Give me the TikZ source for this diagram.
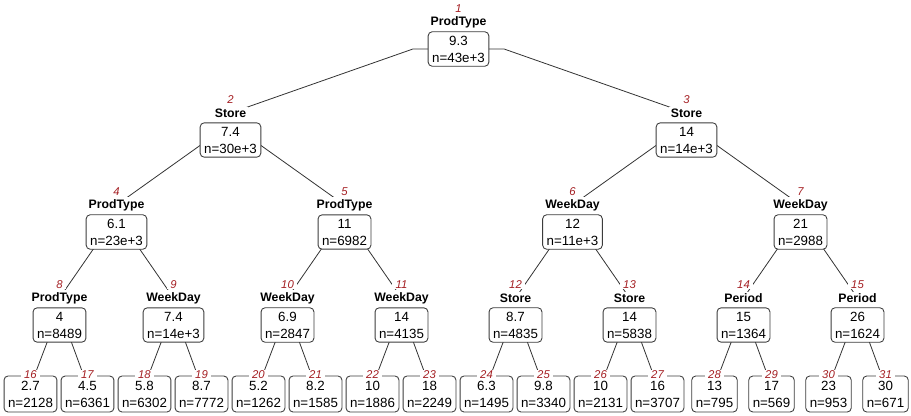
\documentclass[tikz,border=0pt]{standalone}
\usepackage{fontspec}
\setmainfont{Liberation Sans}
\usetikzlibrary{calc,backgrounds}
\definecolor{numred}{RGB}{165,32,36}
\definecolor{boxgray}{RGB}{60,60,60}
\tikzset{
    box/.style={draw=boxgray, fill=white, rounded corners=3pt, line width=.65pt, align=center,
        font=\fontsize{10}{12.75}\selectfont, inner xsep=3pt, inner ysep=3pt},
    leafbox/.style={box, inner ysep=3.6pt},
    split/.style={fill=white, font=\bfseries\fontsize{9.2}{10}\selectfont, inner sep=1.5pt},
    num/.style={fill=white, text=numred, font=\itshape\fontsize{8.5}{9}\selectfont, inner xsep=2.5pt, inner ysep=.3pt},
    branch/.style={draw=black!80, line width=.6pt}
}

\begin{document}
\begin{tikzpicture}[x=.75pt, y=-.75pt]
    \useasboundingbox (0,0) rectangle (911,415);
    % split nodes: number/x/y/variable/mean/count
    \foreach \i/\x/\y/\s/\v/\n in {1/458.5/49/ProdType/9.3/43e+3,
        2/230.5/140/Store/7.4/30e+3, 3/686.5/140/Store/14/14e+3,
        4/116.5/232/ProdType/6.1/23e+3, 5/344.5/232/ProdType/11/6982,
        6/572.5/232/WeekDay/12/11e+3, 7/800.5/232/WeekDay/21/2988,
        8/59.5/325/ProdType/4/8489, 9/173.5/325/WeekDay/7.4/14e+3,
        10/287.5/325/WeekDay/6.9/2847, 11/401.5/325/WeekDay/14/4135,
        12/515.5/325/Store/8.7/4835, 13/629.5/325/Store/14/5838,
        14/743.5/325/Period/15/1364, 15/857.5/325/Period/26/1624}{
        \node[box] (n\i) at (\x,\y) {\v\\n=\n};
        \node[split] (l\i) at (\x,\y-27) {\s};
        \node[num] (k\i) at (\x,\y-40) {\i};
    }
    % leaves 16..31
    \foreach \v/\n [count=\i from 16] in {2.7/2128, 4.5/6361, 5.8/6302, 8.7/7772,
        5.2/1262, 8.2/1585, 10/1886, 18/2249, 6.3/1495, 9.8/3340,
        10/2131, 16/3707, 13/795, 17/569, 23/953, 30/671}{
        \node[leafbox] (n\i) at ({30.5+57*(\i-16)},394) {\v\\n=\n};
        \node[num] (k\i) at ([yshift=1pt]n\i.north) {\i};
    }
    \begin{scope}[on background layer]
        \foreach \c [evaluate=\c as \p using {int(\c/2)}] in {2,...,15}
            \draw[branch] (n\p.center) -- ($(n\p.center)!.2!(n\p.center -| l\c.center)$) -- (l\c.center);
        \foreach \c [evaluate=\c as \p using {int(\c/2)}] in {16,...,31}
            \draw[branch] (n\p.center) -- ($(n\p.center)!.2!(n\p.center -| n\c.center)$) -- ([yshift=6pt]n\c.center);
    \end{scope}
\end{tikzpicture}
\end{document}
